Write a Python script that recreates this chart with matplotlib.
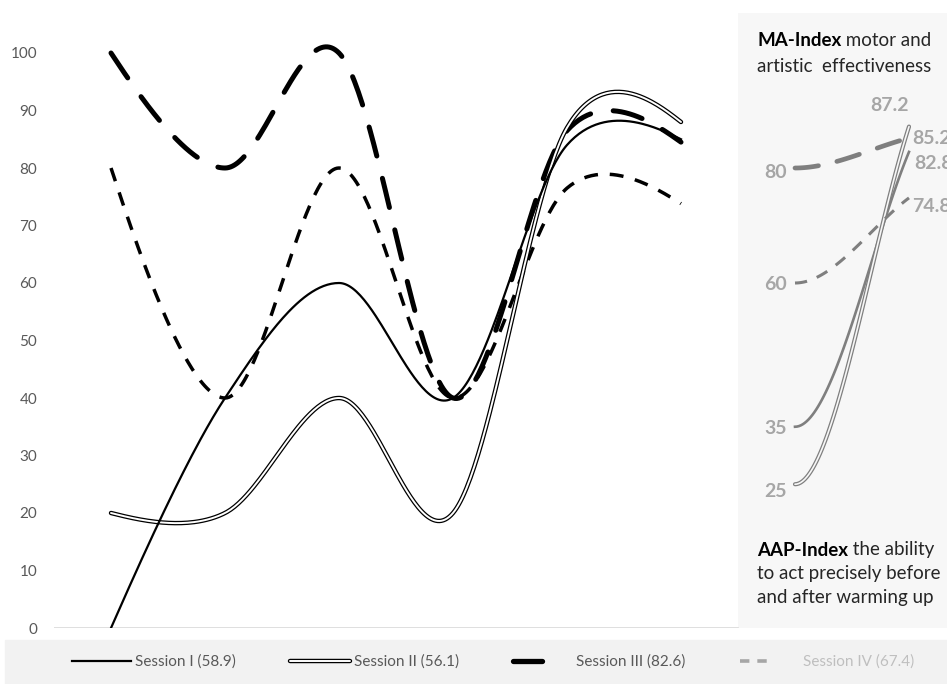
import numpy as np
import matplotlib
matplotlib.use('Agg')
import matplotlib.pyplot as plt
from matplotlib.lines import Line2D
from matplotlib.legend_handler import HandlerTuple
from matplotlib.patches import Rectangle

plt.rcParams['font.family'] = ['Lato', 'DejaVu Sans']

# main chart data (6 measuring points per session)
points = [0, 1, 2, 3, 4, 5]
session1 = [0, 40, 60, 40, 84, 85]
session2 = [20, 20, 40, 20, 87, 88]
session3 = [100, 80, 100, 40, 86.5, 84.5]
session4 = [80, 40, 80, 40, 76.5, 73.8]

# right panel: AAP-index before / after warming up
aap_before = [35, 25, 80, 60]
aap_after = [82.8, 87.2, 85.2, 74.8]
panel_x = [6, 7]

labels = ['Session I (58.9)', 'Session II (56.1)', 'Session III (82.6)', 'Session IV (67.4)']
yticks = [0, 10, 20, 30, 40, 50, 60, 70, 80, 90, 100]


def smooth(xs, ys, n=60):
    # excel-like smoothed line: bezier segments, catmull-rom tangents
    p = np.column_stack([xs, ys]).astype(float)
    m = len(p)
    c_out = np.zeros_like(p)
    c_in = np.zeros_like(p)
    for i in range(1, m - 1):
        d = (p[i + 1] - p[i - 1]) / 6
        c_out[i] = p[i] + d
        c_in[i] = p[i] - d
    c_out[0] = p[0] + (c_in[1] - p[0]) / 3
    c_in[-1] = p[-1] + (c_out[-2] - p[-1]) / 3
    t = np.linspace(0, 1, n)[:, None]
    out = []
    for i in range(m - 1):
        seg = ((1 - t) ** 3 * p[i] + 3 * (1 - t) ** 2 * t * c_out[i]
               + 3 * (1 - t) * t ** 2 * c_in[i + 1] + t ** 3 * p[i + 1])
        out.append(seg if i == 0 else seg[1:])
    out = np.vstack(out)
    return out[:, 0], out[:, 1]


def panel_curve(x0, x1, y0, y1, n=60):
    p0 = np.array([x0, y0], float)
    p1 = np.array([x1, y1], float)
    c0 = p0 + np.array([(x1 - x0) / 3, 0])
    c1 = p1 - (p1 - p0) / 3
    t = np.linspace(0, 1, n)[:, None]
    b = (1 - t) ** 3 * p0 + 3 * (1 - t) ** 2 * t * c0 + 3 * (1 - t) * t ** 2 * c1 + t ** 3 * p1
    return b[:, 0], b[:, 1]


W, H = 947, 684
fig = plt.figure(figsize=(W / 100, H / 100), dpi=100)
fig.patch.set_facecolor('white')

ax = fig.add_axes([54 / W, 56 / H, 893 / W, 615.25 / H])
xmax = -0.5 + 893 / 114
ax.set_xlim(-0.5, xmax)
ax.set_ylim(0, 107)
for s in ax.spines.values():
    s.set_visible(False)
ax.set_xticks([])
ax.set_yticks(yticks)
ax.tick_params(axis='y', length=0, pad=12, labelsize=11, labelcolor='#595959')

# grey side panel + x axis line
ax.axvspan(5.5, xmax, color='#f7f7f7', zorder=0, lw=0)
ax.axhline(0, xmin=0, xmax=6 / (xmax + 0.5), color='#d9d9d9', lw=1.2, zorder=1)

# main curves
x, y = smooth(points, session4)
ax.plot(x, y, color='black', lw=2.5, dashes=(4, 3.4), zorder=3)
x, y = smooth(points, session3)
ax.plot(x, y, color='black', lw=3.6, dashes=(6, 4.6), dash_capstyle='round', zorder=3)
x, y = smooth(points, session2)
ax.plot(x, y, color='black', lw=3.2, solid_capstyle='round', zorder=4)
ax.plot(x, y, color='white', lw=1.4, solid_capstyle='round', zorder=4)
x, y = smooth(points, session1)
ax.plot(x, y, color='black', lw=1.6, zorder=5)

# side panel curves
pc = '#7f7f7f'
styles = [dict(color=pc, lw=1.9),
          None,
          dict(color=pc, lw=3.4, dashes=(5, 4), dash_capstyle='round'),
          dict(color=pc, lw=2.2, dashes=(4, 3.4))]
for i in range(4):
    x, y = panel_curve(panel_x[0], panel_x[1], aap_before[i], aap_after[i])
    if styles[i] is None:
        ax.plot(x, y, color=pc, lw=3.0, solid_capstyle='round', zorder=4)
        ax.plot(x, y, color='#f7f7f7', lw=1.2, solid_capstyle='round', zorder=4)
    else:
        ax.plot(x, y, zorder=4, **styles[i])

lab_kw = dict(textcoords='offset points', fontsize=14, fontweight='bold', color='#a6a6a6')
start_off = [(-6, -1), (-6, -5), (-6, -3), (-6, -1)]
for v, off in zip(aap_before, start_off):
    ax.annotate(f'{v:g}', (panel_x[0], v), xytext=off, ha='right', va='center', **lab_kw)
end_off = [(4, -8), (-14, 9), (2, 0), (2, -6)]
end_ha = ['left', 'center', 'left', 'left']
end_va = ['center', 'bottom', 'center', 'center']
for v, off, ha, va in zip(aap_after, end_off, end_ha, end_va):
    ax.annotate(f'{v:g}', (panel_x[1], v), xytext=off, ha=ha, va=va, **lab_kw)

# panel texts
fs = 13.5
t1 = fig.text(757 / W, 1 - 40 / H, 'MA-Index', fontsize=fs, fontweight='bold', color='black', va='center')
ax.annotate(' motor and', xy=(1, 0), xycoords=t1, va='bottom', fontsize=fs, color='#262626')
fig.text(757 / W, 1 - 66 / H, 'artistic  effectiveness', fontsize=fs, color='#262626', va='center')
t2 = fig.text(757 / W, 1 - 550 / H, 'AAP-Index', fontsize=fs, fontweight='bold', color='black', va='center')
ax.annotate(' the ability', xy=(1, 0), xycoords=t2, va='bottom', fontsize=fs, color='#262626')
fig.text(757 / W, 1 - 574 / H, 'to act precisely before', fontsize=fs, color='#262626', va='center')
fig.text(757 / W, 1 - 598 / H, 'and after warming up', fontsize=fs, color='#262626', va='center')

# legend band
fig.patches.append(Rectangle((5 / W, 0), 942 / W, 44 / H, transform=fig.transFigure,
                             color='#f2f2f2', zorder=0))
h1 = Line2D([], [], color='black', lw=1.6)
h2 = (Line2D([], [], color='black', lw=3.2, solid_capstyle='round'),
      Line2D([], [], color='white', lw=1.4, solid_capstyle='round'))
h3 = Line2D([], [], color='black', lw=3.8, dashes=(5.5, 20), dash_capstyle='round')
h4 = Line2D([], [], color='#a6a6a6', lw=2.6, dashes=(2.6, 2.2, 2.6, 30))
leg = fig.legend([h1, h2, h3, h4], labels, loc='center', ncol=4, mode='expand',
                 bbox_to_anchor=(58 / W, 0, 870 / W, 44 / H), frameon=False,
                 handlelength=3.9, handletextpad=0.25,
                 handler_map={tuple: HandlerTuple(ndivide=1)},
                 prop={'family': ['Liberation Sans Narrow', 'Lato'], 'size': 11})
for txt, c in zip(leg.get_texts(), ['#595959', '#595959', '#595959', '#bfbfbf']):
    txt.set_color(c)

fig.savefig('out.png', dpi=100)
